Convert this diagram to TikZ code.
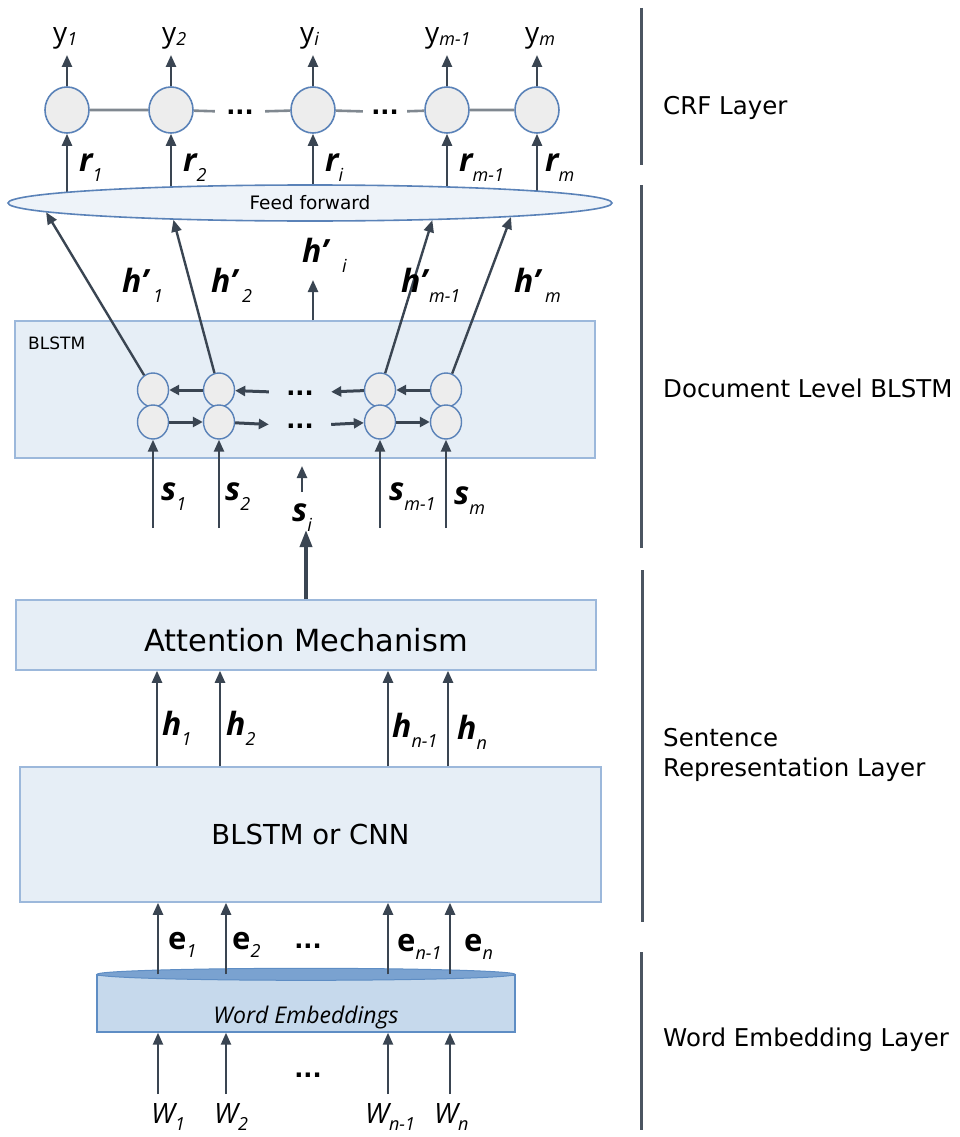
\documentclass[tikz,border=0pt]{standalone}
\usepackage{fontspec}
\setmainfont{DejaVu Sans}
\newfontfamily\labfont{Open Sans}
\usetikzlibrary{shapes.geometric,arrows.meta,positioning,backgrounds}

\definecolor{arrgray}{HTML}{3A4552}
\definecolor{nodefill}{HTML}{EDEDED}
\definecolor{nodeline}{HTML}{5A82B8}
\definecolor{boxfill}{HTML}{E6EEF6}
\definecolor{boxline}{HTML}{9CB8DB}
\definecolor{embfill}{HTML}{C6D9EC}
\definecolor{embtopfill}{HTML}{7AA2D0}
\definecolor{embline}{HTML}{5E8DC4}
\definecolor{fffill}{HTML}{EEF3F9}
\definecolor{linkgray}{HTML}{808890}
\definecolor{sidegray}{HTML}{4B5561}

% bold italic letter with italic index
\newcommand{\bilab}[2]{{\labfont\fontsize{32}{32}\selectfont\bfseries\itshape #1}\raisebox{-10pt}{\labfont\fontsize{18}{18}\selectfont\itshape #2}}
% bold upright letter with italic index
\newcommand{\bulab}[2]{{\labfont\fontsize{31}{32}\selectfont\bfseries #1}\raisebox{-8pt}{\labfont\fontsize{18}{18}\selectfont\itshape #2}}
% plain letter with italic index
\newcommand{\plab}[3]{{\labfont\fontsize{28}{28}\selectfont #1}\raisebox{#3}{\labfont\fontsize{18}{18}\selectfont\itshape #2}}

\begin{document}
\begin{tikzpicture}[x=1pt, y=-1pt,
    arrowline/.style={-{Triangle[length=12pt,width=10pt]}, line width=2.4pt, draw=arrgray},
    bigarrow/.style={-{Triangle[length=17pt,width=12pt]}, line width=3.6pt, draw=arrgray},
    cellarrow/.style={-{Triangle[length=10pt,width=10pt]}, line width=3pt, draw=arrgray},
    linkline/.style={line width=2.6pt, draw=linkgray},
    crfnode/.style={ellipse, draw=nodeline, fill=nodefill, line width=1.6pt, minimum width=44pt, minimum height=46pt, inner sep=0pt},
    lstmcell/.style={ellipse, draw=nodeline, fill=nodefill, line width=1.4pt, minimum width=31pt, minimum height=34pt, inner sep=0pt},
    layerbox/.style={rectangle, draw=boxline, fill=boxfill, line width=1.5pt, inner sep=0pt},
    dotsnode/.style={inner sep=0pt, minimum width=50pt, minimum height=16pt, font=\fontsize{24}{24}\selectfont\bfseries},
    lbl/.style={anchor=base west, inner sep=0pt},
    sidelabel/.style={anchor=west, align=left, inner sep=0pt, font=\fontsize{24.5}{30}\selectfont},
    sideline/.style={line width=3pt, draw=sidegray}]

    \useasboundingbox (0,0) rectangle (959,1137);

    % CRF layer
    \foreach \n/\x in {1/67,2/171,3/313,4/447,5/537}
        \node[crfnode] (c\n) at (\x,110) {};
    \node[dotsnode] (cd1) at (240,112) {...};
    \node[dotsnode, minimum width=44pt] (cd2) at (385,112) {...};
    \draw[linkline] (c1) -- (c2) (c2) -- (cd1) -- (c3) -- (cd2) -- (c4) -- (c5);

    \foreach \n/\x in {1/67,2/171,3/313,4/447,5/537} {
        \coordinate (yt\n) at (\x,55);
        \draw[arrowline] (c\n) -- (yt\n);
    }
    \node[lbl] (y1) at (53,43) {\plab{y}{1}{-3pt}};
    \node[lbl] (y2) at (162,43) {\plab{y}{2}{-3pt}};
    \node[lbl] (yi) at (300,43) {\plab{y}{i}{-3pt}};
    \node[lbl] (ym1) at (425,43) {\plab{y}{m-1}{-3pt}};
    \node[lbl] (ym) at (525,43) {\plab{y}{m}{-3pt}};

    % feed forward
    \node[ellipse, draw=nodeline, fill=fffill, line width=1.6pt, minimum width=604pt, minimum height=36pt, inner sep=0pt,
          font=\fontsize{18.5}{18.5}\selectfont] (ff) at (310,203) {Feed forward};
    \begin{pgfonlayer}{background}
        \foreach \n in {1,...,5}
            \draw[arrowline] (c\n |- ff.center) -- (c\n);
    \end{pgfonlayer}
    \node[lbl] (r1) at (79,171) {\bilab{r}{1}};
    \node[lbl] (r2) at (183,171) {\bilab{r}{2}};
    \node[lbl] (ri) at (325,171) {\bilab{r}{i}};
    \node[lbl] (rm1) at (459,171) {\bilab{r}{m-1}};
    \node[lbl] (rm) at (545,171) {\bilab{r}{m}};

    % document level BLSTM
    \node[layerbox, minimum width=580pt, minimum height=137pt] (blstm) at (305,389.5) {};
    \node[anchor=west, inner sep=0pt, font=\fontsize{17}{17}\selectfont] (blstmtxt) at (28,343) {BLSTM};
    \foreach \n/\x in {1/153,2/219,3/380,4/446} {
        \node[lstmcell] (bu\n) at (\x,390) {};
        \node[lstmcell] (bl\n) at (\x,422) {};
    }
    \node[dotsnode, minimum width=62pt] (du) at (300,393) {...};
    \node[dotsnode, minimum width=62pt] (dl) at (300,426) {...};
    \draw[cellarrow] (bu2) -- (bu1);
    \draw[cellarrow] (du) -- (bu2);
    \draw[cellarrow] (bu3) -- (du);
    \draw[cellarrow] (bu4) -- (bu3);
    \draw[cellarrow] (bl1) -- (bl2);
    \draw[cellarrow] (bl2) -- (dl);
    \draw[cellarrow] (dl) -- (bl3);
    \draw[cellarrow] (bl3) -- (bl4);

    \draw[arrowline] (bu1) -- (ff.182.6);
    \draw[arrowline] (bu2) -- (ff.187.1);
    \draw[arrowline] (bu3) -- (ff.352.9);
    \draw[arrowline] (bu4) -- (ff.356.8);
    \coordinate (hit) at (313,280);
    \draw[arrowline] (blstm.north -| hit) -- (hit);
    \node[lbl] (hp1) at (122,292) {\bilab{h’\hspace{5pt}}{1}};
    \node[lbl] (hp2) at (211,292) {\bilab{h’\hspace{5pt}}{2}};
    \node[lbl] (hpi) at (302,262) {\bilab{h’\hspace{14pt}}{i}};
    \node[lbl] (hpm1) at (401,292) {\bilab{h’\hspace{2pt}}{m-1}};
    \node[lbl] (hpm) at (514,292) {\bilab{h’\hspace{5pt}}{m}};

    \foreach \n/\x in {1/153,2/219,3/380,4/446} {
        \coordinate (sb\n) at (\x,528);
        \draw[arrowline] (sb\n) -- (bl\n);
    }
    \coordinate (sib) at (302,492);
    \coordinate (sit) at (302,466);
    \draw[arrowline] (sib) -- (sit);
    \node[lbl] (s1) at (161,500) {\bilab{s}{1}};
    \node[lbl] (s2) at (225,500) {\bilab{s}{2}};
    \node[lbl] (si) at (292,521) {\bilab{s}{i}};
    \node[lbl] (sm1) at (389,500) {\bilab{s}{m-1}};
    \node[lbl] (sm) at (454,504) {\bilab{s}{m}};

    % sentence representation
    \node[layerbox, minimum width=580pt, minimum height=70pt, text height=34pt, text depth=2pt,
          font=\fontsize{30.5}{30.5}\selectfont] (att) at (306,635) {Attention Mechanism};
    \coordinate (attout) at (306,530);
    \draw[bigarrow] (att.north) -- (attout);
    \node[layerbox, minimum width=581pt, minimum height=135pt, font=\fontsize{27.5}{27.5}\selectfont] (cnn) at (310.5,834.5) {BLSTM or CNN};
    \foreach \x in {157,220,388,448}
        \draw[arrowline] (cnn.north -| \x,0) -- (att.south -| \x,0);
    \node[lbl] (h1) at (162,735) {\bilab{h}{1}};
    \node[lbl] (h2) at (226,735) {\bilab{h}{2}};
    \node[lbl] (hn1) at (392,737) {\bilab{h}{n-1}};
    \node[lbl] (hn) at (457,739) {\bilab{h}{n}};

    % word embeddings
    \node[rectangle, draw=embline, fill=embfill, line width=1.4pt, minimum width=418pt, minimum height=57pt, inner sep=0pt,
          text height=41pt, text depth=2pt, font=\labfont\itshape\fontsize{23}{23}\selectfont] (emb) at (306,1003.5) {Word Embeddings};
    \node[ellipse, draw=embline, fill=embtopfill, line width=1pt, minimum width=418pt, minimum height=12pt, inner sep=0pt] (embtop) at (emb.north) {};
    \foreach \x in {158,226,388,450}
        \draw[arrowline] (embtop.center -| \x,0) -- (cnn.south -| \x,0);
    \node[lbl] (e1) at (168,949) {\bulab{e}{1}};
    \node[lbl] (e2) at (232,949) {\bulab{e}{2}};
    \node[dotsnode] (ed) at (308,946) {...};
    \node[lbl] (en1) at (397,951) {\bulab{e}{n-1}};
    \node[lbl] (en) at (464,951) {\bulab{e}{n}};

    \foreach \n/\x in {1/158,2/226,3/388,4/450} {
        \coordinate (wb\n) at (\x,1094);
        \draw[arrowline] (wb\n) -- (emb.south -| \x,0);
    }
    \node[dotsnode] (wd) at (308,1075) {...};
    \node[lbl] (w1) at (151,1123) {\plab{\itshape W}{1}{-7pt}};
    \node[lbl] (w2) at (214,1123) {\plab{\itshape W}{2}{-7pt}};
    \node[lbl] (wn1) at (365,1123) {\plab{\itshape W}{n-1}{-7pt}};
    \node[lbl] (wn) at (434,1123) {\plab{\itshape W}{n}{-7pt}};

    % layer brackets
    \draw[sideline] (641,8) -- (641,165);
    \draw[sideline] (641,185) -- (641,548);
    \draw[sideline] (642,570) -- (642,922);
    \draw[sideline] (641,952) -- (641,1130);
    \node[sidelabel] (crflbl) at (663,108) {CRF Layer};
    \node[sidelabel] (doclbl) at (663,388) {Document Level BLSTM};
    \node[sidelabel] (sentlbl) at (663,755) {Sentence\\Representation Layer};
    \node[sidelabel] (emblbl) at (663,1040) {Word Embedding Layer};
\end{tikzpicture}
\end{document}
